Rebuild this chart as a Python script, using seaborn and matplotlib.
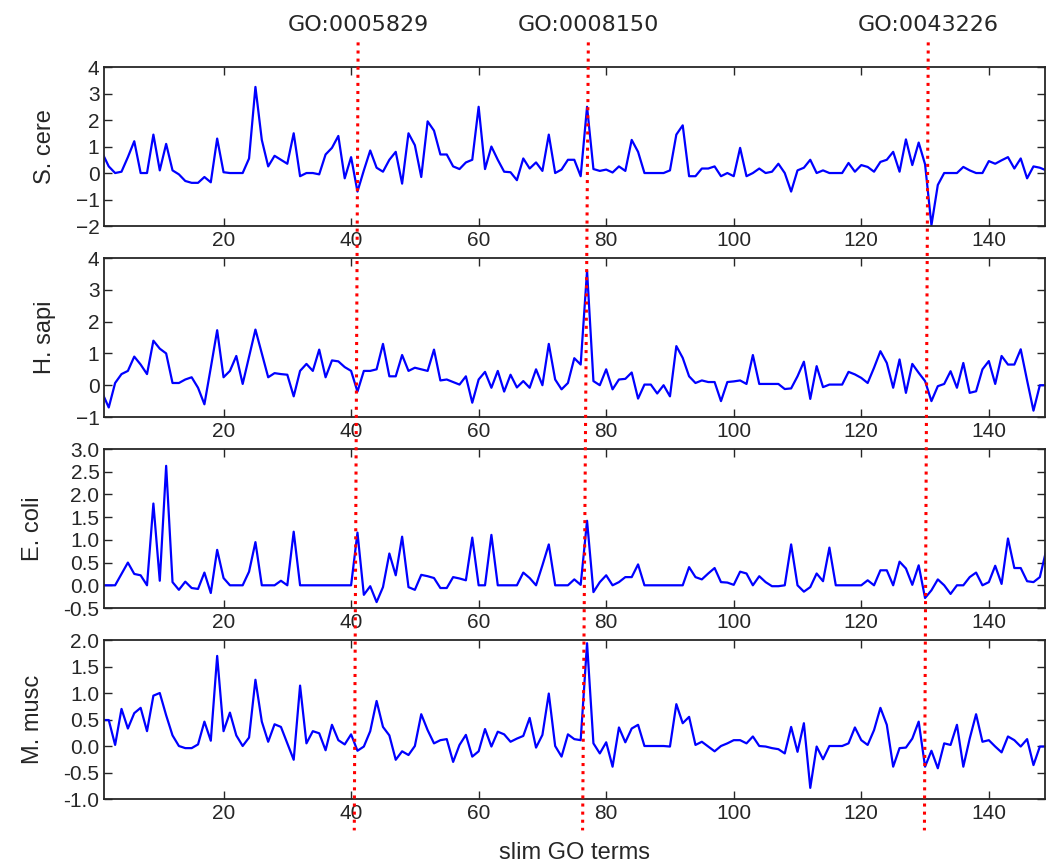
import matplotlib
matplotlib.use('Agg')
import matplotlib.pyplot as plt
from matplotlib.lines import Line2D
import numpy as np
import seaborn as sns

# slim GO term index and per-organism values
terms = list(range(1, 151))

s_cere = [0.75, 0.25, 0.0, 0.05, 0.6, 1.2, 0.0, 0.0, 1.45, 0.1,
          1.1, 0.1, -0.05, -0.3, -0.37, -0.37, -0.15, -0.35, 1.3, 0.03,
          0.0, 0.0, 0.0, 0.55, 3.25, 1.25, 0.25, 0.65, 0.5, 0.35,
          1.5, -0.12, 0.0, 0.0, -0.05, 0.7, 0.95, 1.4, -0.2, 0.6,
          -0.7, 0.1, 0.85, 0.2, 0.05, 0.5, 0.8, -0.4, 1.5, 1.05,
          -0.15, 1.95, 1.6, 0.7, 0.7, 0.25, 0.15, 0.4, 0.5, 2.5,
          0.15, 1.0, 0.5, 0.05, 0.03, -0.27, 0.55, 0.17, 0.4, 0.08,
          1.45, 0.0, 0.13, 0.5, 0.5, -0.12, 2.5, 0.15, 0.08, 0.13,
          0.02, 0.25, 0.08, 1.25, 0.8, 0.0, 0.0, 0.0, 0.0, 0.1,
          1.45, 1.8, -0.12, -0.12, 0.17, 0.17, 0.25, -0.12, 0.0, -0.12,
          0.95, -0.12, 0.0, 0.17, 0.0, 0.05, 0.35, 0.0, -0.7, 0.1,
          0.2, 0.5, 0.0, 0.1, 0.0, 0.0, 0.0, 0.38, 0.05, 0.3,
          0.23, 0.05, 0.42, 0.5, 0.8, 0.05, 1.27, 0.3, 1.15, 0.33,
          -1.97, -0.45, 0.0, 0.0, 0.0, 0.23, 0.1, 0.0, 0.0, 0.45,
          0.35, 0.48, 0.6, 0.17, 0.55, -0.2, 0.25, 0.2, 0.1, 0.05]

h_sapi = [-0.25, -0.7, 0.07, 0.35, 0.45, 0.9, 0.65, 0.35, 1.4, 1.15,
          1.0, 0.07, 0.07, 0.18, 0.25, -0.08, -0.6, 0.55, 1.73, 0.25,
          0.45, 0.92, 0.04, 0.9, 1.75, 1.0, 0.25, 0.38, 0.35, 0.33,
          -0.35, 0.45, 0.67, 0.45, 1.12, 0.25, 0.78, 0.75, 0.57, 0.45,
          -0.2, 0.45, 0.45, 0.5, 1.3, 0.28, 0.28, 0.95, 0.45, 0.55,
          0.5, 0.45, 1.12, 0.15, 0.18, 0.1, 0.02, 0.28, -0.55, 0.18,
          0.42, -0.08, 0.45, -0.2, 0.33, -0.07, 0.13, -0.08, 0.5, 0.0,
          1.3, 0.18, -0.13, 0.07, 0.85, 0.65, 3.6, 0.13, 0.0, 0.5,
          -0.13, 0.18, 0.2, 0.4, -0.42, 0.02, 0.02, -0.26, 0.0, -0.35,
          1.23, 0.86, 0.28, 0.07, 0.15, 0.1, 0.1, -0.5, 0.1, 0.12,
          0.15, 0.04, 0.95, 0.04, 0.04, 0.04, 0.04, -0.12, -0.1, 0.28,
          0.74, -0.43, 0.6, -0.06, 0.02, 0.02, 0.02, 0.42, 0.34, 0.23,
          0.07, 0.55, 1.07, 0.7, -0.08, 0.81, -0.24, 0.67, 0.39, 0.13,
          -0.5, -0.03, 0.04, 0.44, -0.08, 0.7, -0.24, -0.19, 0.5, 0.76,
          0.04, 0.92, 0.65, 0.65, 1.13, 0.15, -0.8, 0.0, 0.0, 0.0]

e_coli = [0.0, 0.0, 0.0, 0.25, 0.5, 0.25, 0.22, 0.0, 1.8, 0.1,
          2.63, 0.07, -0.1, 0.08, -0.06, -0.08, 0.28, -0.17, 0.78, 0.16,
          0.0, 0.0, 0.0, 0.3, 0.95, 0.0, 0.0, 0.0, 0.1, 0.0,
          1.18, 0.0, 0.0, 0.0, 0.0, 0.0, 0.0, 0.0, 0.0, 0.0,
          1.16, -0.21, -0.02, -0.37, -0.04, 0.7, 0.22, 1.07, -0.04, -0.1,
          0.23, 0.2, 0.16, -0.06, -0.06, 0.18, 0.15, 0.11, 1.05, 0.0,
          0.0, 1.11, 0.0, 0.0, 0.0, 0.0, 0.28, 0.16, 0.0, 0.44,
          0.9, 0.0, 0.0, 0.0, 0.13, 0.01, 1.42, -0.15, 0.07, 0.22,
          0.0, 0.07, 0.18, 0.18, 0.46, 0.0, 0.0, 0.0, 0.0, 0.0,
          0.0, 0.0, 0.4, 0.18, 0.13, 0.26, 0.38, 0.07, 0.06, 0.01,
          0.3, 0.26, 0.0, 0.2, 0.07, -0.02, -0.02, 0.0, 0.9, 0.0,
          -0.14, -0.04, 0.26, 0.09, 0.83, 0.0, 0.0, 0.0, 0.0, 0.0,
          0.11, 0.0, 0.33, 0.33, 0.0, 0.52, 0.37, 0.01, 0.44, -0.28,
          -0.11, 0.13, 0.0, -0.19, 0.0, 0.0, 0.18, 0.28, 0.0, 0.07,
          0.43, 0.03, 1.03, 0.38, 0.38, 0.09, 0.07, 0.18, 0.77, 0.8]

m_musc = [0.49, 0.49, 0.02, 0.7, 0.33, 0.62, 0.72, 0.28, 0.95, 1.0,
          0.58, 0.2, 0.0, -0.04, -0.04, 0.03, 0.46, 0.1, 1.7, 0.28,
          0.63, 0.2, 0.0, 0.16, 1.25, 0.46, 0.08, 0.41, 0.36, 0.05,
          -0.26, 1.14, 0.05, 0.28, 0.24, -0.08, 0.4, 0.11, 0.03, 0.22,
          -0.09, -0.01, 0.28, 0.85, 0.36, 0.2, -0.26, -0.1, -0.17, 0.0,
          0.6, 0.3, 0.05, 0.11, 0.13, -0.3, 0.02, 0.21, -0.2, -0.1,
          0.32, -0.01, 0.27, 0.22, 0.08, 0.14, 0.19, 0.53, -0.03, 0.21,
          0.99, 0.0, -0.2, 0.22, 0.13, 0.11, 1.94, 0.05, -0.14, 0.07,
          -0.39, 0.35, 0.07, 0.33, 0.4, 0.0, 0.0, 0.0, 0.0, -0.01,
          0.79, 0.43, 0.55, 0.02, 0.08, -0.01, -0.1, 0.0, 0.05, 0.11,
          0.11, 0.05, 0.18, 0.0, -0.01, -0.04, -0.06, -0.14, 0.36, -0.11,
          0.43, -0.79, -0.01, -0.25, 0.0, 0.0, 0.0, 0.05, 0.35, 0.11,
          0.02, 0.3, 0.72, 0.4, -0.39, -0.04, -0.03, 0.14, 0.46, -0.39,
          -0.09, -0.42, 0.05, 0.02, 0.4, -0.39, 0.14, 0.6, 0.08, 0.11,
          -0.01, -0.12, 0.18, 0.11, -0.01, 0.13, -0.36, -0.01, -0.01, 0.0]

organisms = ['S. cere', 'H. sapi', 'E. coli', 'M. musc']
series = [s_cere, h_sapi, e_coli, m_musc]
ylims = [(-2, 4), (-1, 4), (-0.5, 3.0), (-1.0, 2.0)]
ysteps = [1, 1, 0.5, 0.5]

# marked GO terms (position at top panel / bottom panel)
go_labels = ['GO:0005829', 'GO:0008150', 'GO:0043226']
go_top = [41.1, 77.2, 130.5]
go_bottom = [40.5, 76.3, 129.9]

sns.set_style('ticks', {'xtick.direction': 'in', 'ytick.direction': 'in'})
plt.rcParams['font.family'] = ['Liberation Sans', 'DejaVu Sans']

fig = plt.figure(figsize=(10.46, 8.65), dpi=100)
bottoms = [0.7387, 0.5179, 0.2971, 0.0763]
axes = []
for i in range(4):
    ax = fig.add_axes([0.0997, bottoms[i], 0.8993, 0.1838])
    sns.lineplot(x=terms, y=series[i], ax=ax, color='b', lw=1.6)
    ax.set_xlim(1.3, 148.8)
    ax.set_ylim(*ylims[i])
    ax.set_xticks(range(20, 150, 20))
    lo, hi = ylims[i]
    ax.set_yticks(np.arange(lo, hi + 0.01, ysteps[i]))
    if ysteps[i] < 1:
        ax.set_yticklabels(['%.1f' % v for v in np.arange(lo, hi + 0.01, ysteps[i])])
    ax.tick_params(top=True, right=True, labelsize=15, length=6, width=1)
    ax.set_ylabel(organisms[i], fontsize=17, labelpad=14)
    for sp in ax.spines.values():
        sp.set_linewidth(1.3)
    axes.append(ax)

axes[-1].set_xlabel('slim GO terms', fontsize=17, labelpad=14)

# red dotted markers across all panels
fig.canvas.draw()
inv = fig.transFigure.inverted()
for lab, xt, xb in zip(go_labels, go_top, go_bottom):
    ft = inv.transform(axes[0].transData.transform((xt, 0)))[0]
    fb = inv.transform(axes[-1].transData.transform((xb, 0)))[0]
    fig.add_artist(Line2D([ft, fb], [0.951, 0.040], transform=fig.transFigure,
                          color='red', ls=':', lw=2.2))
    fig.text(ft, 0.971, lab, ha='center', va='center', fontsize=16,
             family='DejaVu Sans')

fig.savefig('out.png', dpi=100, facecolor='white')
